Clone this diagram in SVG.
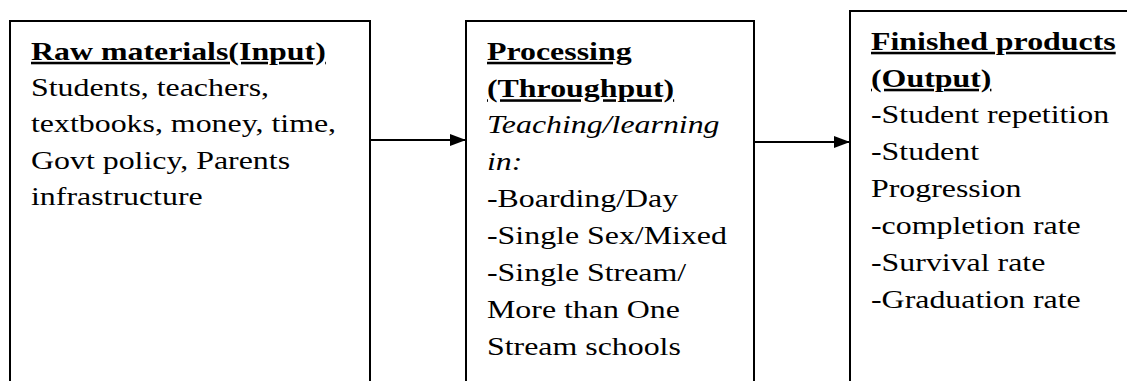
<svg xmlns="http://www.w3.org/2000/svg" width="1127" height="381" viewBox="0 0 1127 381">
  <style>
    .box { fill: #ffffff; stroke: #000000; stroke-width: 2; }
    .t { font-family: "Liberation Serif", "Times New Roman", serif; font-size: 25.5px; fill: #000000; }
    .h { font-weight: bold; text-decoration: underline; }
    .i { font-style: italic; }
    .conn { stroke: #000000; stroke-width: 2; fill: none; }
  </style>
  <defs>
    <marker id="arrow" markerUnits="userSpaceOnUse" markerWidth="16" markerHeight="12" refX="16" refY="6" orient="auto">
      <path d="M0,0 L16,6 L0,12 Z" fill="#000000"/>
    </marker>
  </defs>
  <rect width="1127" height="381" fill="#ffffff"/>

  <g id="node-input">
    <rect class="box" x="10" y="21" width="360" height="380"/>
    <g transform="translate(31,0) scale(1.25 1)">
      <text class="t h" x="0" y="60">Raw materials(Input)</text>
      <text class="t" x="0" y="96.3">Students, teachers,</text>
      <text class="t" x="0" y="132.5">textbooks, money, time,</text>
      <text class="t" x="0" y="168.8">Govt policy, Parents</text>
      <text class="t" x="0" y="205">infrastructure</text>
    </g>
  </g>

  <g id="node-processing">
    <rect class="box" x="466" y="21" width="288" height="380"/>
    <g transform="translate(487,0) scale(1.25 1)">
      <text class="t h" x="0" y="60">Processing</text>
      <text class="t h" x="0" y="97.5">(Throughput)</text>
      <text class="t i" x="0" y="133.5">Teaching/learning</text>
      <text class="t i" x="0" y="170.5">in:</text>
      <text class="t" x="0" y="207.5">-Boarding/Day</text>
      <text class="t" x="0" y="244.5">-Single Sex/Mixed</text>
      <text class="t" x="0" y="281">-Single Stream/</text>
      <text class="t" x="0" y="318">More than One</text>
      <text class="t" x="0" y="355">Stream schools</text>
    </g>
  </g>

  <g id="node-output">
    <rect class="box" x="850" y="11" width="300" height="390"/>
    <g transform="translate(871,0) scale(1.25 1)">
      <text class="t h" x="0" y="50">Finished products</text>
      <text class="t h" x="0" y="87">(Output)</text>
      <text class="t" x="0" y="123.5">-Student repetition</text>
      <text class="t" x="0" y="160.5">-Student</text>
      <text class="t" x="0" y="197">Progression</text>
      <text class="t" x="0" y="234">-completion rate</text>
      <text class="t" x="0" y="271">-Survival rate</text>
      <text class="t" x="0" y="308">-Graduation rate</text>
    </g>
  </g>

  <g id="connectors">
    <line class="conn" x1="370" y1="140" x2="466" y2="140" marker-end="url(#arrow)"/>
    <line class="conn" x1="754" y1="142" x2="850" y2="142" marker-end="url(#arrow)"/>
  </g>
</svg>
